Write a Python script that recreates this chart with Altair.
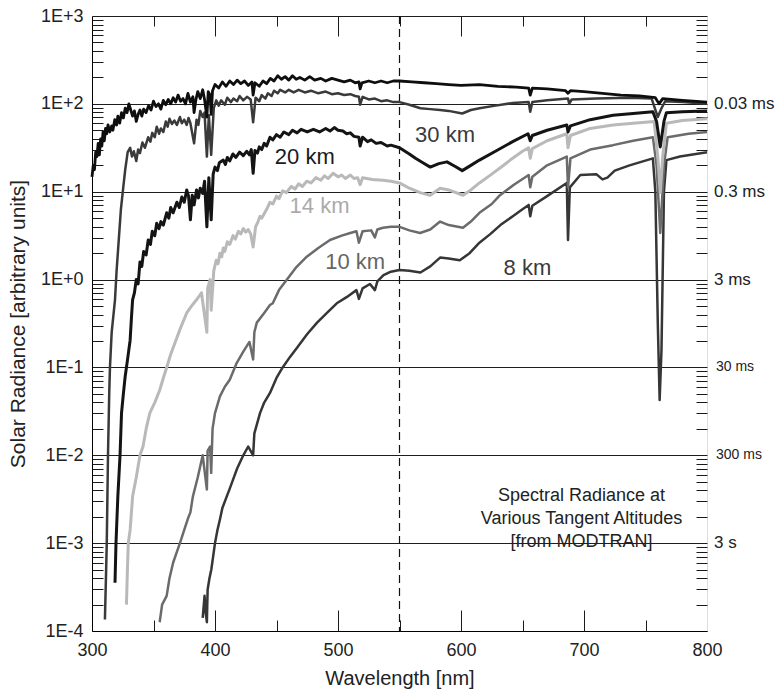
import altair as alt
import pandas as pd

# ---- curves: wavelength [nm] and log10(solar radiance) ----
wl_top = [300, 301, 302, 303, 304, 305, 306, 307, 308, 309, 310, 311, 312, 313, 314.5, 316, 317, 318.5, 320, 321,
          322.5, 324, 325.5, 327, 328.5, 330, 331.5, 333, 334.5, 336, 337.5, 339, 340.5, 342, 344, 346, 348, 350, 352, 354,
          356, 358, 360, 362, 364, 366, 368, 370, 372, 374, 376, 378, 380, 382, 383, 384.5, 386, 388, 390, 391.5,
          393.4, 394.5, 396, 396.9, 398, 400, 403, 406, 409, 412, 415, 418, 421, 424, 427, 430, 431, 432.5, 436, 439,
          442, 445, 448, 451, 454, 457, 460, 463, 466, 469, 473, 477, 481, 486, 490, 495, 500, 505, 510, 514,
          517, 518, 519.5, 525, 530, 535, 540, 545, 550, 560, 570, 580, 590, 600, 615, 630, 645, 655, 656.3, 658,
          670, 685, 687, 689, 700, 715, 730, 745, 758, 761, 764, 780, 800]
lg_top = [1.17, 1.30, 1.25, 1.45, 1.40, 1.55, 1.42, 1.60, 1.52, 1.68, 1.58, 1.72, 1.66, 1.76, 1.68, 1.75, 1.70, 1.82, 1.76, 1.86,
          1.78, 1.90, 1.84, 1.95, 1.90, 2.00, 1.93, 1.86, 1.92, 1.80, 1.88, 1.93, 1.86, 1.94, 1.90, 1.98, 1.93, 2.03, 1.97, 2.00,
          1.94, 2.04, 1.99, 2.05, 2.00, 2.07, 2.02, 2.10, 2.03, 2.06, 2.00, 2.12, 2.02, 2.08, 1.90, 2.05, 2.14, 2.06, 2.16, 2.05,
          1.85, 2.14, 2.10, 1.88, 2.15, 2.22, 2.18, 2.25, 2.20, 2.26, 2.22, 2.27, 2.23, 2.26, 2.21, 2.25, 2.10, 2.24, 2.20, 2.26,
          2.23, 2.29, 2.26, 2.32, 2.28, 2.31, 2.27, 2.32, 2.28, 2.30, 2.27, 2.31, 2.27, 2.29, 2.26, 2.29, 2.27, 2.25, 2.27, 2.24,
          2.25, 2.17, 2.24, 2.26, 2.24, 2.26, 2.24, 2.26, 2.26, 2.25, 2.24, 2.23, 2.22, 2.21, 2.22, 2.20, 2.19, 2.18, 2.10, 2.18,
          2.17, 2.15, 2.12, 2.15, 2.14, 2.12, 2.10, 2.09, 2.07, 2.00, 2.06, 2.04, 2.02]

wl_30 = [310.5, 311.5, 312, 313, 314, 314.6, 316, 318.7, 320, 322, 323.5, 325.5, 327, 329, 331, 332.5, 334, 336, 337.5, 339,
         341, 343, 345.7, 347.5, 349, 351, 352.6, 354.5, 356, 358, 360, 361.5, 363, 365, 367, 369, 371.5, 373, 375, 377,
         378.5, 380, 383, 385, 386.5, 388, 390, 391.5, 393.4, 395, 396.9, 399, 401, 403, 405, 408, 410, 413, 415, 418,
         420, 423, 426, 429, 431, 433, 436, 438, 441, 443, 446, 448, 451, 453, 457, 460, 464, 468, 473, 478,
         484, 490, 495, 500, 505, 510, 514, 517, 518, 520, 525, 530, 535, 540, 545, 550, 558, 567, 575, 583,
         590, 601, 608, 615, 628, 642, 655, 656.3, 658, 670, 687, 688, 690, 710, 737, 755, 760, 763, 766, 780, 800]
lg_30 = [-3.87, -3.3, -3.0, -2.0, -1.3, -1.0, -0.6, -0.23, 0.1, 0.5, 0.8, 1.06, 1.25, 1.45, 1.50, 1.40, 1.46, 1.35, 1.48, 1.44,
         1.56, 1.50, 1.62, 1.57, 1.67, 1.62, 1.74, 1.66, 1.72, 1.68, 1.80, 1.74, 1.83, 1.77, 1.81, 1.76, 1.85, 1.78, 1.82, 1.76,
         1.84, 1.78, 1.55, 1.82, 1.76, 1.92, 1.85, 1.90, 1.40, 1.87, 1.42, 1.95, 2.04, 1.98, 2.04, 1.99, 2.07, 2.02, 2.06, 2.03,
         2.09, 2.04, 2.08, 2.05, 1.79, 2.07, 2.03, 2.10, 2.06, 2.12, 2.09, 2.15, 2.12, 2.16, 2.13, 2.16, 2.13, 2.16, 2.13, 2.15,
         2.12, 2.14, 2.11, 2.12, 2.10, 2.11, 2.09, 2.08, 1.99, 2.08, 2.05, 2.06, 2.03, 2.04, 2.02, 2.02, 1.99, 1.95, 1.94, 1.93,
         1.92, 1.89, 1.93, 1.95, 1.98, 2.01, 2.02, 1.91, 2.02, 2.04, 2.06, 2.00, 2.05, 2.06, 2.07, 2.06, 1.85, 1.95, 2.03, 2.02, 2.00]

wl_20 = [318.7, 319.5, 321, 322.8, 324, 325.5, 327, 329, 331, 332, 333, 334.5, 336, 337.5, 339, 340.5, 342, 344, 345.7, 347.5,
         349, 351, 352.6, 354.5, 356, 358, 360.7, 362.5, 364, 366, 369, 371, 373, 375, 377, 378.5, 380, 381.5, 383, 385,
         386.5, 388, 390, 391.5, 393.4, 395, 396.9, 398.5, 400, 402, 403.5, 406.7, 408.5, 410, 412, 414.6, 417, 420, 423, 425.7,
         428, 429.5, 431, 432.5, 434.5, 436, 438, 440, 442, 444.7, 447, 450, 453, 456, 460, 463, 466.7, 470, 475, 480,
         485, 490, 493.5, 497, 500, 504, 507, 510, 513, 517, 518, 520, 524, 527, 531, 535, 540, 543, 550, 558,
         563, 569, 575, 582, 588.6, 595, 601, 608, 615, 628, 642, 654.5, 656.3, 658, 670, 686, 687, 689, 705, 723.6,
         740, 756, 759, 762, 765, 767, 780, 800]
lg_20 = [-3.45, -3.0, -2.47, -2.0, -1.52, -1.3, -1.1, -0.9, -0.69, -0.45, -0.23, -0.15, 0.0, -0.05, 0.2, 0.15, 0.32, 0.28, 0.45, 0.40,
         0.55, 0.50, 0.64, 0.58, 0.66, 0.62, 0.76, 0.70, 0.82, 0.76, 0.88, 0.82, 0.94, 0.88, 1.02, 0.95, 0.68, 0.96, 0.85, 1.02,
         0.93, 1.04, 0.98, 1.12, 0.60, 1.16, 0.68, 1.20, 1.28, 1.24, 1.33, 1.36, 1.31, 1.39, 1.35, 1.43, 1.39, 1.45, 1.41, 1.46,
         1.42, 1.48, 1.21, 1.47, 1.44, 1.51, 1.48, 1.55, 1.52, 1.62, 1.59, 1.65, 1.62, 1.68, 1.65, 1.70, 1.67, 1.71, 1.68, 1.71,
         1.68, 1.72, 1.69, 1.73, 1.70, 1.69, 1.66, 1.67, 1.63, 1.62, 1.52, 1.62, 1.57, 1.59, 1.55, 1.56, 1.52, 1.53, 1.50, 1.43,
         1.38, 1.33, 1.28, 1.32, 1.34, 1.29, 1.24, 1.30, 1.36, 1.46, 1.57, 1.66, 1.58, 1.64, 1.70, 1.76, 1.68, 1.75, 1.82, 1.87,
         1.89, 1.91, 1.80, 1.51, 1.80, 1.90, 1.91, 1.92]

wl_14 = [328, 328.8, 329.5, 331, 333, 336, 339, 341.5, 344, 347, 351, 355, 358, 360.7, 364, 368, 372, 377, 381, 385,
         389, 393.4, 394, 396, 396.9, 399, 401, 402.5, 404, 405.5, 406.7, 408, 410, 412, 414.6, 416.5, 419, 421, 423, 425,
         427, 429, 431, 433, 435, 436.6, 438, 440, 442, 444.7, 447, 450, 452, 455, 458, 462, 465, 468, 471, 474.6,
         478, 482, 486, 489, 492, 496, 500, 503, 506, 510, 513, 516, 518, 520, 528, 536.6, 543, 550, 558, 566.7,
         575, 583, 590, 601.6, 608, 615, 625, 631.7, 640, 650, 655, 656.3, 658, 670, 686, 687, 689, 705, 723.6, 740,
         757, 760, 762, 764, 767, 780, 800]
lg_14 = [-3.7, -3.3, -3.0, -2.85, -2.47, -2.25, -2.0, -1.9, -1.7, -1.52, -1.4, -1.26, -1.12, -1.0, -0.85, -0.70, -0.55, -0.38, -0.30, -0.23,
         -0.15, -0.60, -0.10, 0.0, -0.35, 0.10, 0.22, 0.18, 0.30, 0.26, 0.36, 0.32, 0.43, 0.40, 0.50, 0.46, 0.55, 0.52, 0.58, 0.54,
         0.57, 0.52, 0.37, 0.60, 0.66, 0.72, 0.70, 0.75, 0.80, 0.88, 0.86, 0.95, 0.92, 1.01, 0.99, 1.06, 1.03, 1.09, 1.06, 1.12,
         1.10, 1.16, 1.13, 1.18, 1.15, 1.21, 1.17, 1.19, 1.15, 1.19, 1.15, 1.16, 1.08, 1.16, 1.14, 1.13, 1.12, 1.10, 1.04, 0.99,
         0.96, 1.04, 1.02, 0.96, 1.02, 1.10, 1.20, 1.27, 1.36, 1.46, 1.50, 1.38, 1.49, 1.58, 1.66, 1.50, 1.64, 1.72, 1.76, 1.78,
         1.80, 1.40, 0.99, 1.40, 1.78, 1.81, 1.83]

wl_10 = [355, 357, 360.7, 363, 366, 369, 371.5, 375, 378, 380, 382, 386, 390, 393.4, 394, 396, 396.9, 398, 400, 404,
         408, 412, 417.6, 423, 428, 431, 432, 434, 440, 444.7, 447, 452, 458.5, 466, 474.6, 484, 493.5, 503, 510, 515,
         517, 520, 527, 530, 532, 536.6, 543, 550, 558, 566.7, 575, 583, 590, 601.6, 608, 615, 625, 631.7, 643, 655,
         656.3, 658, 670, 686, 687, 689, 705, 723.6, 740, 756, 759, 762, 765, 768, 785, 800]
lg_10 = [-3.9, -3.7, -3.6, -3.4, -3.22, -3.1, -3.0, -2.85, -2.72, -2.65, -2.47, -2.25, -2.0, -2.39, -1.95, -1.9, -2.2, -1.7, -1.52, -1.33,
         -1.22, -1.14, -0.95, -0.82, -0.71, -0.91, -0.60, -0.49, -0.38, -0.29, -0.27, -0.12, 0.0, 0.14, 0.26, 0.36, 0.45, 0.50, 0.53, 0.55,
         0.42, 0.55, 0.56, 0.48, 0.57, 0.59, 0.60, 0.60, 0.56, 0.53, 0.57, 0.66, 0.62, 0.59, 0.66, 0.76, 0.86, 0.96, 1.08, 1.19,
         1.05, 1.17, 1.30, 1.40, 1.05, 1.38, 1.48, 1.53, 1.58, 1.62, 1.30, 0.53, 1.30, 1.62, 1.66, 1.68]

wl_8 = [390, 391.5, 392.5, 393.4, 394, 395.5, 397, 398.5, 400, 402, 404, 406, 409.5, 412, 414.6, 418, 423, 427, 431, 432,
        436.6, 440, 444.7, 450, 455, 461, 467, 475, 483, 491, 499, 507, 515, 517, 520, 526, 530, 532, 537, 543,
        550, 558, 567, 575, 583, 590, 599, 607, 615, 624, 632, 643, 650, 655, 656.3, 658, 670, 686, 687, 688.5,
        697, 710, 715, 719, 725, 737, 756, 758, 760, 761.5, 763, 765, 767, 778, 800]
lg_8 = [-3.85, -3.6, -3.8, -3.9, -3.53, -3.4, -3.3, -3.15, -3.0, -2.85, -2.73, -2.6, -2.47, -2.38, -2.28, -2.15, -2.0, -1.9, -2.0, -1.75,
        -1.52, -1.4, -1.29, -1.12, -1.0, -0.88, -0.77, -0.62, -0.49, -0.38, -0.27, -0.2, -0.12, -0.22, -0.10, -0.05, -0.12, -0.02, 0.05, 0.09,
        0.11, 0.10, 0.08, 0.15, 0.25, 0.24, 0.22, 0.30, 0.42, 0.52, 0.62, 0.73, 0.80, 0.85, 0.72, 0.84, 0.95, 1.10, 0.45, 1.05,
        1.19, 1.20, 1.14, 1.16, 1.24, 1.30, 1.38, 1.00, -0.5, -1.37, -0.8, 1.00, 1.36, 1.40, 1.45]

series_names = ["8 km", "10 km", "14 km", "20 km", "30 km", "top"]
series_wl = [wl_8, wl_10, wl_14, wl_20, wl_30, wl_top]
series_lg = [lg_8, lg_10, lg_14, lg_20, lg_30, lg_top]
series_colors = ["#363636", "#6b6b6b", "#b9b9b9", "#141414", "#3a3a3a", "#0e0e0e"]
series_widths = [2.5, 2.5, 3.0, 3.0, 2.5, 2.8]

# curve labels (data coordinates)
lab_text = ["30 km", "20 km", "14 km", "10 km", "8 km"]
lab_wl = [587, 473, 485, 514, 654]
lab_rad = [44.7, 25.0, 6.8, 1.6, 1.35]
lab_colors = ["#3a3a3a", "#1a1a1a", "#aaaaaa", "#666666", "#3a3a3a"]

# exposure-time labels on the right
exp_big_text = ["0.03 ms", "0.3 ms", "3 ms", "3 s"]
exp_big_rad = [1e2, 1e1, 1e0, 1e-3]
exp_small_text = ["30 ms", "300 ms"]
exp_small_rad = [1e-1, 1e-2]

decades = [1e-4, 1e-3, 1e-2, 1e-1, 1e0, 1e1, 1e2, 1e3]
minor_vals = [m * d for d in decades[:-1] for m in range(2, 10)]
x_major = [400, 500, 600, 700]
x_minor = [350, 450, 550, 650, 750]
dash_wl = [550]

note_lines = ["Spectral Radiance at", "Various Tangent Altitudes", "[from MODTRAN]"]
note_wl = 698
note_rad = 3.4e-3

FONT = "Liberation Sans"
W, H = 615, 615

xs = alt.Scale(domain=[300, 800], nice=False, zero=False)
ys = alt.Scale(type="log", domain=[1e-4, 1e3], nice=False)
xaxis = alt.Axis(values=[300, 400, 500, 600, 700, 800], tickSize=0, labelFontSize=18, labelPadding=10,
                 labelFlush=False, labelColor="#222", title="Wavelength [nm]", titleFontSize=20, titlePadding=9,
                 titleColor="#222", titleFontWeight="normal", grid=False, domainColor="#000",
                 labelFont=FONT, titleFont=FONT)
yaxis = alt.Axis(values=decades, tickSize=0, labelFontSize=18, labelPadding=9, labelColor="#222",
                 labelExpr="'1E' + (round(log(datum.value)/LN10) >= 0 ? '+' : '-') + abs(round(log(datum.value)/LN10))",
                 title="Solar Radiance [arbitrary units]", titleFontSize=21, titlePadding=12,
                 titleColor="#222", titleFontWeight="normal", grid=True, gridColor="#1e1e1e",
                 gridWidth=1, gridOpacity=1, domainColor="#000", labelFont=FONT, titleFont=FONT)

# encodings without axes (used by every layer except the one that owns the axes)
XN = alt.X("wl:Q", scale=xs, axis=None)
YN = alt.Y("rad:Q", scale=ys, axis=None)


def tick_axis(orient, vals, size):
    # an unlabelled axis pulled inside the frame so that its ticks point inwards
    return alt.Axis(orient=orient, values=vals, labels=False, domain=False, grid=False, ticks=True,
                    tickSize=size, offset=-size, tickColor="#1a1a1a", tickWidth=1, title=None)


layers = []

# layer owning the main axes + gridlines (the dashed 550 nm line)
layers.append(alt.Chart(pd.DataFrame({"wl": dash_wl, "rad": [1.0]})).mark_rule(
    color="#111", strokeWidth=1.2, strokeDash=[8, 5]).encode(
    x=alt.X("wl:Q", scale=xs, axis=xaxis)))
layers.append(alt.Chart(pd.DataFrame({"wl": dash_wl, "rad": [1.0]})).mark_point(opacity=0, size=1).encode(
    x=XN, y=alt.Y("rad:Q", scale=ys, axis=yaxis)))

# inward frame ticks via extra unlabelled axes
df_minor = pd.DataFrame({"rad": minor_vals, "wl": [550] * len(minor_vals)})
layers.append(alt.Chart(df_minor).mark_point(opacity=0, size=1).encode(
    x=XN, y=alt.Y("rad:Q", scale=ys, axis=tick_axis("left", minor_vals, 11))))
layers.append(alt.Chart(df_minor).mark_point(opacity=0, size=1).encode(
    x=XN, y=alt.Y("rad:Q", scale=ys, axis=tick_axis("right", minor_vals, 11))))
df_xt = pd.DataFrame({"wl": x_major + x_minor, "rad": [1.0] * 9})
for orient, vals, size in (("bottom", x_major, 21), ("bottom", x_minor, 11),
                           ("top", x_major, 20), ("top", x_minor, 10)):
    layers.append(alt.Chart(df_xt).mark_point(opacity=0, size=1).encode(
        y=YN, x=alt.X("wl:Q", scale=xs, axis=tick_axis(orient, vals, size))))

# curves
for name, wl, lg, col, sw in zip(series_names, series_wl, series_lg, series_colors, series_widths):
    df = pd.DataFrame({"wl": wl, "rad": [10 ** v for v in lg]})
    layers.append(alt.Chart(df).mark_line(color=col, strokeWidth=sw, strokeJoin="round").encode(x=XN, y=YN))

# curve labels
for t, w, r, c in zip(lab_text, lab_wl, lab_rad, lab_colors):
    layers.append(alt.Chart(pd.DataFrame({"wl": [w], "rad": [r], "t": [t]})).mark_text(
        font=FONT, fontSize=22, color=c, align="center", baseline="middle").encode(x=XN, y=YN, text="t:N"))

# note
layers.append(alt.Chart(pd.DataFrame({"wl": [note_wl], "rad": [note_rad], "t": ["\n".join(note_lines)]})).mark_text(
    font=FONT, fontSize=18, color="#222", align="center", baseline="middle", lineBreak="\n", lineHeight=23
).encode(x=XN, y=YN, text="t:N"))

# right-hand exposure labels
layers.append(alt.Chart(pd.DataFrame({"rad": exp_big_rad, "t": exp_big_text})).mark_text(
    font=FONT, fontSize=17, color="#222", align="left", baseline="middle").encode(
    y=YN, x=alt.value(W + 7), text="t:N"))
layers.append(alt.Chart(pd.DataFrame({"rad": exp_small_rad, "t": exp_small_text})).mark_text(
    font=FONT, fontSize=14, color="#222", align="left", baseline="middle").encode(
    y=YN, x=alt.value(W + 9), text="t:N"))

chart = alt.layer(*layers).resolve_axis(x="independent", y="independent").properties(
    width=W, height=H,
    padding={"left": 92, "top": 16, "right": 70, "bottom": 58},
    autosize=alt.AutoSizeParams(type="none"),
).configure_view(stroke="#000", strokeWidth=1).configure(background="white")

chart.save("out.html", embed_options={"renderer": "svg", "actions": False})
